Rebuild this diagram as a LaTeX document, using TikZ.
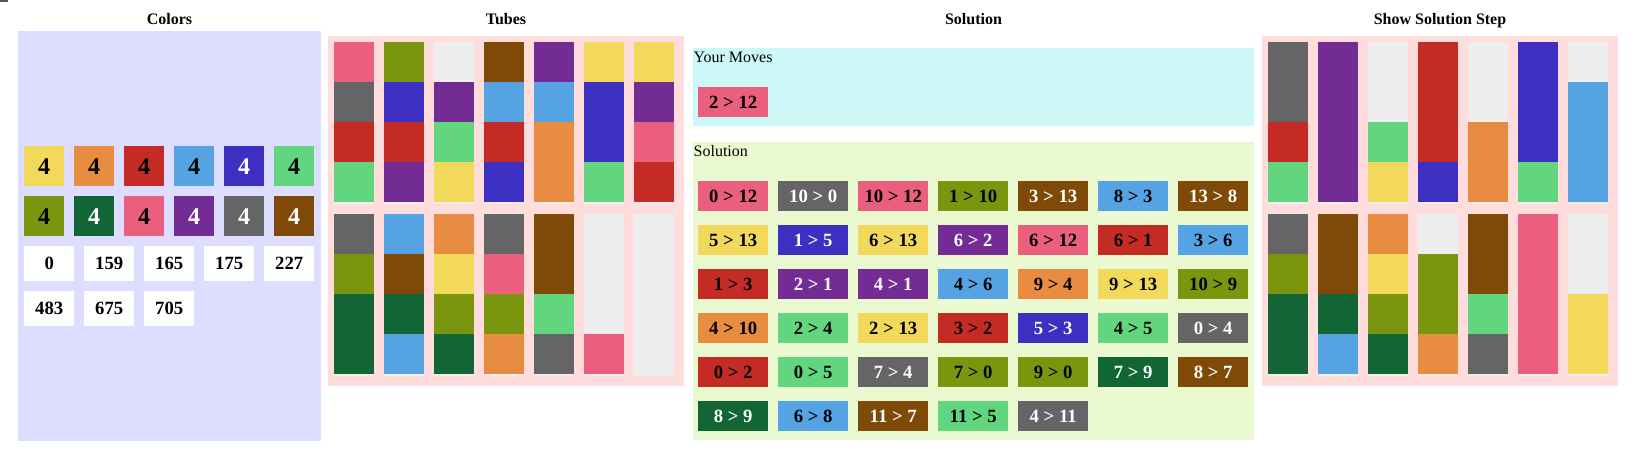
\documentclass[tikz,border=0pt]{standalone}
\usepackage{fontspec}
\setmainfont{Liberation Serif}
\definecolor{cyel}{HTML}{F2D95B}
\definecolor{cora}{HTML}{E88C42}
\definecolor{cred}{HTML}{C42B24}
\definecolor{clbl}{HTML}{55A3E3}
\definecolor{cblu}{HTML}{3D2FC2}
\definecolor{cgrn}{HTML}{62D67E}
\definecolor{colv}{HTML}{7A960F}
\definecolor{cdgr}{HTML}{126635}
\definecolor{cpnk}{HTML}{EA5F7D}
\definecolor{cpur}{HTML}{722C94}
\definecolor{cgry}{HTML}{656567}
\definecolor{cbrn}{HTML}{7F4A08}
\definecolor{cemp}{HTML}{EEEEEE}
\definecolor{bglav}{HTML}{DDDDFF}
\definecolor{bgpink}{HTML}{FFDDDD}
\definecolor{bgcyan}{HTML}{CCF8F8}
\definecolor{bggreen}{HTML}{EBF9D1}
\definecolor{cmark}{HTML}{555555}
\tikzset{
  kyel/.style={fill=cyel,text=black},
  kora/.style={fill=cora,text=black},
  kred/.style={fill=cred,text=black},
  klbl/.style={fill=clbl,text=black},
  kblu/.style={fill=cblu,text=white},
  kgrn/.style={fill=cgrn,text=black},
  kolv/.style={fill=colv,text=black},
  kdgr/.style={fill=cdgr,text=white},
  kpnk/.style={fill=cpnk,text=black},
  kpur/.style={fill=cpur,text=white},
  kgry/.style={fill=cgry,text=white},
  kbrn/.style={fill=cbrn,text=white},
  kemp/.style={fill=cemp},
  paneltitle/.style={font=\bfseries\fontsize{16}{19}\selectfont, anchor=base, inner sep=0},
  panellabel/.style={font=\fontsize{16}{19}\selectfont, anchor=base west, inner sep=0},
  colorsq/.style={minimum width=40pt, minimum height=40pt, inner sep=0, anchor=north west,
    font=\bfseries\fontsize{24}{28}\selectfont},
  numbox/.style={fill=white, minimum width=50pt, minimum height=35pt, inner sep=0, anchor=north west,
    font=\bfseries\fontsize{18.7}{22}\selectfont},
  movebox/.style={minimum width=70pt, minimum height=30pt, inner sep=0, anchor=north west,
    font=\bfseries\fontsize{18.7}{22}\selectfont},
}
\newcommand\drawtubeset[3]{%
  \foreach \cl [count=\i from 0] in {#3} {
    \pgfmathsetmacro\tx{#1+50*mod(\i,7)}
    \pgfmathsetmacro\ty{#2+172*floor(\i/7)}
    \fill[kemp] (\tx,\ty) rectangle ++(40,162);
    \foreach \c [count=\j from 0] in \cl {
      \fill[\c] (\tx,\ty+40*\j) rectangle ++(40,40);
    }
  }}
\begin{document}
\begin{tikzpicture}[x=1pt,y=-1pt]
\useasboundingbox (0,0) rectangle (1644,472);
\fill[white] (0,0) rectangle (1644,472);
\fill[cmark] (0,0) rectangle (8,1.7);

% titles
\node[paneltitle] (tcolors) at (169.5,24) {Colors};
\node[paneltitle] (ttubes) at (506,24) {Tubes};
\node[paneltitle] (tsolution) at (973.5,24) {Solution};
\node[paneltitle] (tshow) at (1440,24) {Show Solution Step};

% Colors panel
\fill[bglav] (18,31) rectangle (321,441);
\foreach \s [count=\k from 0] in {kyel,kora,kred,klbl,kblu,kgrn,kolv,kdgr,kpnk,kpur,kgry,kbrn} {
  \pgfmathsetmacro\sx{24+50*mod(\k,6)}
  \pgfmathsetmacro\sy{146+50*floor(\k/6)}
  \node[colorsq,\s] (sq\k) at (\sx,\sy) {4};
}
\foreach \v [count=\k from 0] in {0,159,165,175,227} {
  \node[numbox] (na\k) at (24+60*\k,246) {\v};
}
\foreach \v [count=\k from 0] in {483,675,705} {
  \node[numbox] (nb\k) at (24+60*\k,291) {\v};
}

% Tubes panel
\fill[bgpink] (328,36) rectangle (684,386);
\drawtubeset{334}{42}{%
  {kpnk,kgry,kred,kgrn},{kolv,kblu,kred,kpur},{kemp,kpur,kgrn,kyel},{kbrn,klbl,kred,kblu},%
  {kpur,klbl,kora,kora},{kyel,kblu,kblu,kgrn},{kyel,kpur,kpnk,kred},%
  {kgry,kolv,kdgr,kdgr},{klbl,kbrn,kdgr,klbl},{kora,kyel,kolv,kdgr},{kgry,kpnk,kolv,kora},%
  {kbrn,kbrn,kgrn,kgry},{kemp,kemp,kemp,kpnk},{kemp,kemp,kemp,kemp}}

% Your Moves panel
\fill[bgcyan] (693,48) rectangle (1254,126);
\node[panellabel] (lmoves) at (693.5,62) {Your Moves};
\node[movebox,kpnk] (ym0) at (698,87) {2 > 12};

% Solution panel
\fill[bggreen] (693,142) rectangle (1254,440);
\node[panellabel] (lsolution) at (693.5,156) {Solution};
\foreach \a/\b/\s [count=\n from 0] in {
  0/12/kpnk,10/0/kgry,10/12/kpnk,1/10/kolv,3/13/kbrn,8/3/klbl,13/8/kbrn,
  5/13/kyel,1/5/kblu,6/13/kyel,6/2/kpur,6/12/kpnk,6/1/kred,3/6/klbl,
  1/3/kred,2/1/kpur,4/1/kpur,4/6/klbl,9/4/kora,9/13/kyel,10/9/kolv,
  4/10/kora,2/4/kgrn,2/13/kyel,3/2/kred,5/3/kblu,4/5/kgrn,0/4/kgry,
  0/2/kred,0/5/kgrn,7/4/kgry,7/0/kolv,9/0/kolv,7/9/kdgr,8/7/kbrn,
  8/9/kdgr,6/8/klbl,11/7/kbrn,11/5/kgrn,4/11/kgry} {
  \pgfmathsetmacro\mx{698+80*mod(\n,7)}
  \pgfmathsetmacro\my{181+44*floor(\n/7)}
  \node[movebox,\s] (mv\n) at (\mx,\my) {\a{} > \b};
}

% Show Solution Step panel
\fill[bgpink] (1262,36) rectangle (1618,386);
\drawtubeset{1268}{42}{%
  {kgry,kgry,kred,kgrn},{kpur,kpur,kpur,kpur},{kemp,kemp,kgrn,kyel},{kred,kred,kred,kblu},%
  {kemp,kemp,kora,kora},{kblu,kblu,kblu,kgrn},{kemp,klbl,klbl,klbl},%
  {kgry,kolv,kdgr,kdgr},{kbrn,kbrn,kdgr,klbl},{kora,kyel,kolv,kdgr},{kemp,kolv,kolv,kora},%
  {kbrn,kbrn,kgrn,kgry},{kpnk,kpnk,kpnk,kpnk},{kemp,kemp,kyel,kyel}}
\end{tikzpicture}
\end{document}
